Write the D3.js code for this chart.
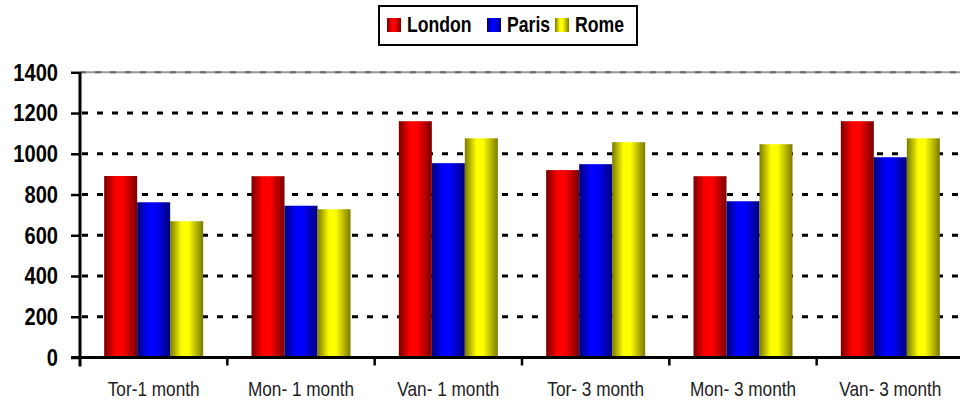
<!DOCTYPE html>
<html><head><meta charset="utf-8">
<script src="https://cdn.jsdelivr.net/npm/d3@7"></script>
<style>body{margin:0;background:#fff}svg{display:block}</style>
</head><body>
<svg id="chart" width="960" height="400"></svg>
<script>
const categories = ["Tor-1 month","Mon- 1 month","Van- 1 month","Tor- 3 month","Mon- 3 month","Van- 3 month"];
const seriesNames = ["London","Paris","Rome"];
const london = [891, 890, 1160, 920, 890, 1160];
const paris  = [762, 745, 954, 949, 767, 983];
const rome   = [669, 728, 1076, 1057, 1047, 1076];
const yTicks = [0,200,400,600,800,1000,1200,1400];
const seriesColors = [
  {dark:"#7a0000", light:"#ff0000"},
  {dark:"#00007a", light:"#0000ff"},
  {dark:"#7a7a00", light:"#ffff00"}
];
const seriesValues = [london, paris, rome];

const svg = d3.select("#chart");
const font = "'Liberation Sans',Arial,sans-serif";
const narrow = 0.82;
const pLeft = 80, pRight = 964, pTop = 72.3, pBottom = 357.5;

const x = d3.scaleBand().domain(categories).range([pLeft, pRight]).paddingInner(0).paddingOuter(0);
const inner = d3.scaleBand().domain(seriesNames).range([0, 99]);
const y = d3.scaleLinear().domain([0,1400]).range([pBottom, pTop]);

// gradients
const defs = svg.append("defs");
seriesColors.forEach((c,i)=>{
  const g = defs.append("linearGradient").attr("id","g"+i).attr("x1","0%").attr("x2","100%").attr("y1","0%").attr("y2","0%");
  g.append("stop").attr("offset","0%").attr("stop-color",c.dark);
  g.append("stop").attr("offset","35%").attr("stop-color",c.light);
  g.append("stop").attr("offset","55%").attr("stop-color",c.light);
  g.append("stop").attr("offset","100%").attr("stop-color",c.dark);
});

// gridlines
svg.append("g").selectAll("line").data(yTicks.filter(d=>d>0 && d<1400)).join("line")
  .attr("x1", pLeft+2).attr("x2", 960).attr("y1", d=>y(d)).attr("y2", d=>y(d))
  .attr("stroke","#000").attr("stroke-width",3).attr("stroke-dasharray","6,9");
svg.append("line").attr("x1",pLeft).attr("x2",960).attr("y1",y(1400)).attr("y2",y(1400))
  .attr("stroke","#999").attr("stroke-width",2);
svg.append("line").attr("x1",pLeft).attr("x2",960).attr("y1",y(1400)).attr("y2",y(1400))
  .attr("stroke","#666").attr("stroke-width",2).attr("stroke-dasharray","6,9");

// bars
const groups = svg.append("g").selectAll("g").data(categories).join("g")
  .attr("transform", d=>`translate(${x(d)+(x.bandwidth()-99)/2},0)`);
groups.selectAll("rect").data((d,ci)=>seriesNames.map((s,si)=>({s,si,v:seriesValues[si][ci]}))).join("rect")
  .attr("x", d=>inner(d.s)).attr("width", inner.bandwidth())
  .attr("y", d=>y(d.v)).attr("height", d=>y(0)-y(d.v))
  .attr("fill", d=>`url(#g${d.si})`);

// y axis
const yAxis = svg.append("g").attr("transform",`translate(${pLeft},0)`)
  .call(d3.axisLeft(y).tickValues(yTicks).tickSize(9).tickPadding(13).tickFormat(d3.format("d")));
yAxis.select(".domain").attr("stroke","#000").attr("stroke-width",3).attr("d",`M0,${pTop}V${pBottom+9}`);
yAxis.selectAll(".tick line").attr("stroke","#000").attr("stroke-width",2.5);
yAxis.selectAll("text").attr("x",0).attr("transform",`translate(-22,0) scale(${narrow},1)`)
  .attr("font-family",font).attr("font-weight","bold").attr("font-size",24.5).attr("fill","#000");

// x axis
const xAxis = svg.append("g").attr("transform",`translate(0,${pBottom})`)
  .call(d3.axisBottom(x).tickSize(0).tickPadding(23.3));
xAxis.select(".domain").attr("stroke","#000").attr("stroke-width",3).attr("d",`M${pLeft-9},0H960`);
xAxis.selectAll("text").attr("transform",`scale(${narrow},1)`)
  .attr("font-family",font).attr("font-size",21).attr("fill","#222");
svg.append("g").selectAll("line").data(categories.slice(1)).join("line")
  .attr("x1",d=>x(d)).attr("x2",d=>x(d)).attr("y1",pBottom).attr("y2",pBottom+8)
  .attr("stroke","#000").attr("stroke-width",2.5);

// legend
const lg = svg.append("g");
lg.append("rect").attr("x",379).attr("y",6).attr("width",258).attr("height",39)
  .attr("fill","#fff").attr("stroke","#000").attr("stroke-width",2);
const legX = [387, 487, 555];
seriesNames.forEach((s,i)=>{
  lg.append("rect").attr("x",legX[i]).attr("y",18).attr("width",14).attr("height",14).attr("fill",`url(#g${i})`);
  lg.append("text").attr("transform",`translate(${legX[i]+20},32) scale(${narrow},1)`).text(s)
    .attr("font-family",font).attr("font-weight","bold").attr("font-size",21.5).attr("fill","#000");
});
</script>
</body></html>
